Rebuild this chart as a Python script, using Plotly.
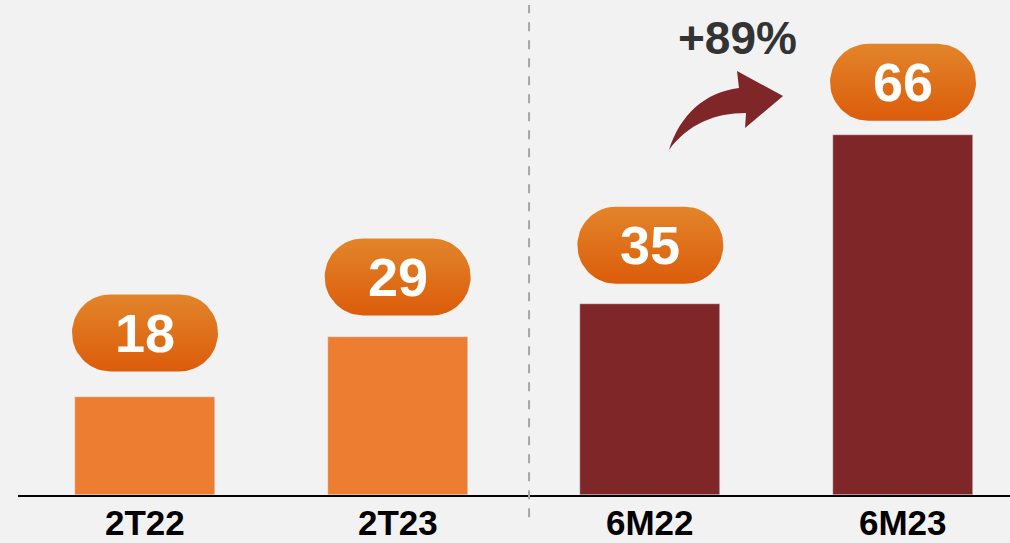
import plotly.graph_objects as go
import numpy as np

# ---- data ----
categories = ["2T22", "2T23", "6M22", "6M23"]
values = [18, 29, 35, 66]
bar_colors = ["#ED7D31", "#ED7D31", "#7F2628", "#7F2628"]
growth_label = "+89%"
label_gap_px = [64, 60, 59, 53]   # pill centre above bar top (px)

# ---- layout geometry ----
W, H = 1010, 543
ML, MR, MT, MB = 18, 0, 0, 48
PW, PH = W - ML - MR, H - MT - MB
px_per_cat = 252.67
px_per_unit = 5.45
x0 = -127 / px_per_cat
x_range = [x0, x0 + PW / px_per_cat]
y_range = [0, PH / px_per_unit]

def paper(px, py):
    return (px - ML) / PW, (H - MB - py) / PH

fig = go.Figure()
fig.add_trace(go.Bar(
    x=list(range(len(categories))), y=values, marker_color=bar_colors,
    width=140 / px_per_cat, hoverinfo="skip", showlegend=False,
))

# pills (rounded labels) with vertical gradient
half_w = 73 / px_per_cat
r_px = 38.5
rx, ry = r_px / px_per_cat, r_px / px_per_unit
for i, v in enumerate(values):
    cy = v + label_gap_px[i] / px_per_unit
    cx = i
    t1 = np.linspace(-np.pi / 2, np.pi / 2, 40)
    t2 = np.linspace(np.pi / 2, 3 * np.pi / 2, 40)
    xs = np.concatenate([cx + half_w - rx + rx * np.cos(t1), cx - half_w + rx + rx * np.cos(t2)])
    ys = np.concatenate([cy + ry * np.sin(t1), cy + ry * np.sin(t2)])
    xs = np.append(xs, xs[0]); ys = np.append(ys, ys[0])
    fig.add_trace(go.Scatter(
        x=xs, y=ys, mode="lines", line=dict(width=0), fill="toself",
        fillgradient=dict(type="vertical", colorscale=[[0, "#DC5C0B"], [1, "#E2852A"]]),
        hoverinfo="skip", showlegend=False,
    ))
    fig.add_annotation(x=cx, y=cy, text=str(v), showarrow=False,
                       font=dict(family="Liberation Sans", size=54, color="white", weight="bold"),
                       xanchor="center", yanchor="middle")

# category labels below the axis
_, ly = paper(0, 522)
for i, c in enumerate(categories):
    fig.add_annotation(x=i, xref="x", y=ly, yref="paper", text=c, showarrow=False,
                       font=dict(family="Liberation Sans", size=35, color="#000000", weight="bold"),
                       xanchor="center", yanchor="middle", borderpad=0)

# dashed separator
sx = 1.52
fig.add_shape(type="line", xref="x", yref="paper", x0=sx, x1=sx, y0=-0.045, y1=0.99,
              line=dict(color="#A6A6A6", width=2, dash="dash"))

# curved arrow
pts = {
    "tail": (669, 150), "c1": (680, 115), "c2": (705, 92), "ju": (739, 88),
    "ht": (737, 71), "tip": (783, 96), "hb": (745, 128), "jl": (746, 113),
    "c3": (715, 113), "c4": (688, 124),
}
P = {k: paper(*p) for k, p in pts.items()}
f = lambda k: f"{P[k][0]:.4f},{P[k][1]:.4f}"
path = (f"M {f('tail')} C {f('c1')} {f('c2')} {f('ju')} L {f('ht')} L {f('tip')} "
        f"L {f('hb')} L {f('jl')} C {f('c3')} {f('c4')} {f('tail')} Z")
fig.add_shape(type="path", xref="paper", yref="paper", path=path,
              fillcolor="#7F2628", line=dict(width=0))

gx, gy = paper(737, 38)
fig.add_annotation(xref="paper", yref="paper", x=gx, y=gy, text=growth_label, showarrow=False,
                   font=dict(family="Liberation Sans", size=46, color="#333333", weight="bold"),
                   xanchor="center", yanchor="middle")

fig.update_layout(
    width=W, height=H, margin=dict(l=ML, r=MR, t=MT, b=MB),
    paper_bgcolor="#F2F2F2", plot_bgcolor="#F2F2F2",
    bargap=0,
    xaxis=dict(range=x_range, showticklabels=False, showgrid=False, zeroline=False,
               automargin=False, showline=True, linecolor="#000000", linewidth=2,
               ticks="", fixedrange=True),
    yaxis=dict(range=y_range, visible=False, fixedrange=True, automargin=False),
)
fig.write_html("out.html", config={"displayModeBar": False},
               post_script="document.body.style.margin='0';document.body.style.background='#F2F2F2';")
